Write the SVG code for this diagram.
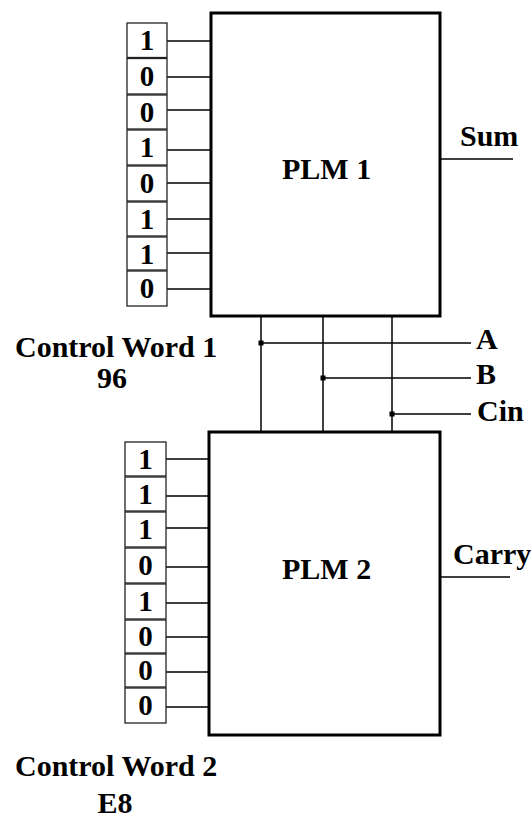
<svg xmlns="http://www.w3.org/2000/svg" width="531" height="819" viewBox="0 0 531 819">
<style>
.big{font-size:30px}
.bit{font-size:29px;text-anchor:middle}
.blk{fill:#fff;stroke:#000;stroke-width:3}
.cell{fill:#fff;stroke:#222;stroke-width:1.3}
.w{stroke:#000;stroke-width:1.5;fill:none}
.dot{fill:#000}
</style>
<rect width="531" height="819" fill="#fff"/>
<g id="connectors">
<path class="w" d="M167 41H211M167 77H211M167 110H211M167 150H211M167 183H211M167 219H211M167 253H211M167 289H211"/>
<path class="w" d="M166 459H209M166 496H209M166 528H209M166 567H209M166 603H209M166 637H209M166 672H209M166 707H209"/>
<path class="w" d="M261 316V432M323 316V432M392 316V432"/>
<path class="w" d="M261 343H471M323 378H471M392 414H471"/>
<path class="w" d="M440 159H513M440 577H510"/>
<rect class="dot" x="258.5" y="340.5" width="5" height="5"/>
<rect class="dot" x="320.5" y="375.5" width="5" height="5"/>
<rect class="dot" x="389.5" y="411.5" width="5" height="5"/>
</g>
<g font-family="Liberation Serif, DejaVu Serif, serif" font-weight="bold" fill="#000">
<g id="plm1">
<rect class="blk" x="211" y="13" width="229" height="303"/>
<text class="big" x="282" y="179">PLM 1</text>
</g>
<g id="plm2">
<rect class="blk" x="209" y="432" width="231" height="303"/>
<text class="big" x="282" y="579">PLM 2</text>
</g>
<g id="cw1">
<rect class="cell" x="127" y="23" width="40" height="34.5"/>
<rect class="cell" x="127" y="58.5" width="40" height="35.5"/>
<rect class="cell" x="127" y="95" width="40" height="34"/>
<rect class="cell" x="127" y="130" width="40" height="35"/>
<rect class="cell" x="127" y="166" width="40" height="35"/>
<rect class="cell" x="127" y="202" width="40" height="34"/>
<rect class="cell" x="127" y="237" width="40" height="33"/>
<rect class="cell" x="127" y="271" width="40" height="35"/>
<text class="bit" x="147" y="50">1</text>
<text class="bit" x="147" y="86">0</text>
<text class="bit" x="147" y="122">0</text>
<text class="bit" x="147" y="157">1</text>
<text class="bit" x="147" y="193">0</text>
<text class="bit" x="147" y="229">1</text>
<text class="bit" x="147" y="264">1</text>
<text class="bit" x="147" y="298">0</text>
<text class="big" x="15" y="357">Control Word 1</text>
<text class="big" x="112" y="388" text-anchor="middle">96</text>
</g>
<g id="cw2">
<rect class="cell" x="125" y="442" width="41" height="34"/>
<rect class="cell" x="125" y="477" width="41" height="34"/>
<rect class="cell" x="125" y="512" width="41" height="35"/>
<rect class="cell" x="125" y="548" width="41" height="35"/>
<rect class="cell" x="125" y="584" width="41" height="35"/>
<rect class="cell" x="125" y="620" width="41" height="33"/>
<rect class="cell" x="125" y="654" width="41" height="33"/>
<rect class="cell" x="125" y="688" width="41" height="35"/>
<text class="bit" x="145.5" y="469">1</text>
<text class="bit" x="145.5" y="504">1</text>
<text class="bit" x="145.5" y="539">1</text>
<text class="bit" x="145.5" y="575">0</text>
<text class="bit" x="145.5" y="611">1</text>
<text class="bit" x="145.5" y="646">0</text>
<text class="bit" x="145.5" y="680">0</text>
<text class="bit" x="145.5" y="715">0</text>
<text class="big" x="15" y="776">Control Word 2</text>
<text class="big" x="115" y="813" text-anchor="middle">E8</text>
</g>
<g id="labels">
<text class="big" x="460" y="146">Sum</text>
<text class="big" x="453" y="564">Carry</text>
<text class="big" x="476" y="349">A</text>
<text class="big" x="476" y="384">B</text>
<text class="big" x="477" y="421">Cin</text>
</g>
</g>
</svg>
